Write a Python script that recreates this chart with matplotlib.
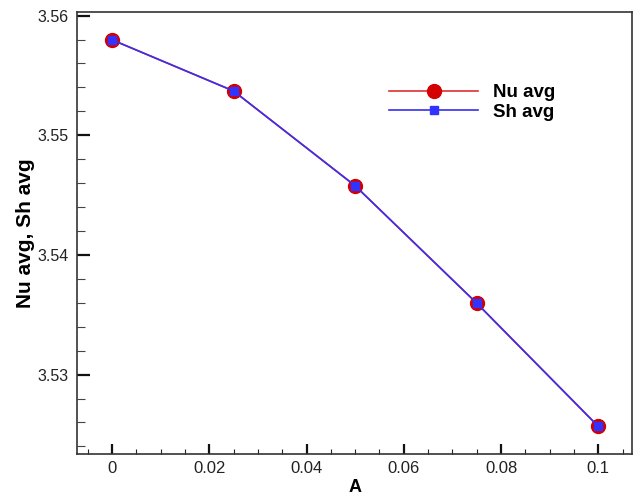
import matplotlib
matplotlib.use("Agg")
import matplotlib.pyplot as plt
from matplotlib.ticker import MultipleLocator

# amplitude values and averaged Nusselt / Sherwood numbers
amplitude = [0.0, 0.025, 0.05, 0.075, 0.1]
nu_avg = [3.55798, 3.55370, 3.54578, 3.53597, 3.52567]
sh_avg = [3.55798, 3.55370, 3.54578, 3.53597, 3.52567]

x_ticks = [0, 0.02, 0.04, 0.06, 0.08, 0.1]
x_tick_labels = ["0", "0.02", "0.04", "0.06", "0.08", "0.1"]
y_ticks = [3.53, 3.54, 3.55, 3.56]
y_tick_labels = ["3.53", "3.54", "3.55", "3.56"]

plt.rcParams["font.family"] = ["Liberation Sans", "DejaVu Sans"]

fig = plt.figure(figsize=(6.4, 4.99), dpi=100)
ax = fig.add_axes([0.1203, 0.0896, 0.988 - 0.1203, 0.9754 - 0.0896])

ax.plot(amplitude, nu_avg, color="#e03030", linewidth=1.2, marker="o",
        markersize=10, markerfacecolor="#d40000", markeredgecolor="#d40000",
        label="Nu avg", zorder=2)
ax.plot(amplitude, sh_avg, color="#3a2ef0", linewidth=1.2, marker="s",
        markersize=5.5, markerfacecolor="#3333ff", markeredgecolor="#3333ff",
        label="Sh avg", zorder=3)

ax.set_xlim(-0.0072, 0.107)
ax.set_ylim(3.52334, 3.56028)

ax.set_xticks(x_ticks)
ax.set_xticklabels(x_tick_labels)
ax.set_yticks(y_ticks)
ax.set_yticklabels(y_tick_labels)
ax.xaxis.set_minor_locator(MultipleLocator(0.005))
ax.yaxis.set_minor_locator(MultipleLocator(0.002))

ax.tick_params(axis="x", which="major", direction="in", length=7.2, width=1.6,
               labelsize=12, pad=5, color="#111111", labelcolor="#222222")
ax.tick_params(axis="x", which="minor", direction="in", length=3.6, width=0.8,
               color="#222222")
ax.tick_params(axis="y", which="major", direction="in", length=9.4, width=1.6,
               labelsize=11.5, pad=6, color="#111111", labelcolor="#222222")
ax.tick_params(axis="y", which="minor", direction="in", length=5.8, width=0.8,
               color="#444444")

for side in ["left", "right", "top", "bottom"]:
    ax.spines[side].set_linewidth(1.2)
    ax.spines[side].set_color("#333333")

ax.set_xlabel("A", fontsize=13, fontweight="bold", labelpad=2)
ax.set_ylabel("Nu avg, Sh avg", fontsize=15, fontweight="bold", labelpad=2)

ax.legend(loc="upper left", bbox_to_anchor=(0.562, 0.837), frameon=False,
          prop={"size": 13.5, "weight": "bold"}, handlelength=4.75,
          handletextpad=0.8, labelspacing=0.12, borderpad=0, borderaxespad=0)

fig.savefig("out.png", dpi=100)
